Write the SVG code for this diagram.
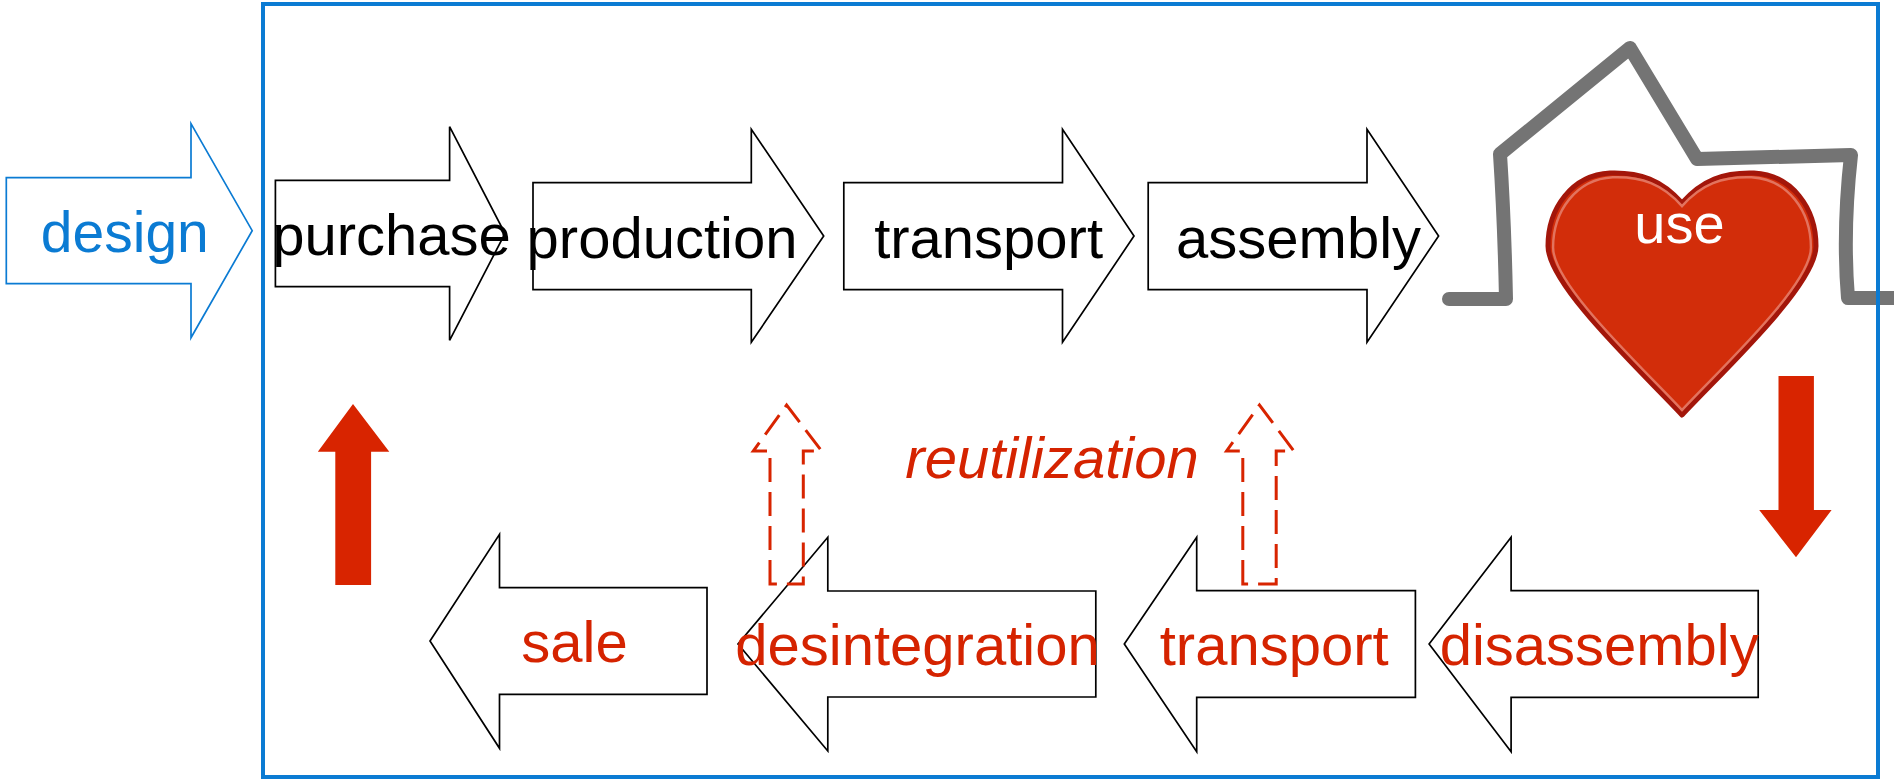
<svg xmlns="http://www.w3.org/2000/svg" width="1894" height="779" viewBox="0 0 1894 779">
<style>
.box{fill:#fff;stroke:#000;stroke-width:1.7;stroke-linejoin:miter}
.lbl{font-family:"Liberation Sans",Arial,Helvetica,sans-serif;font-size:58px;text-anchor:middle}
.blk{fill:#000}
.red{fill:#d52300}
.solid{fill:#d82400;stroke:none}
.dash{fill:none;stroke:#d82400;stroke-width:3;stroke-dasharray:24 10}
.house{fill:none;stroke:#747474;stroke-width:14;stroke-linecap:round;stroke-linejoin:round}
</style>
<rect width="1894" height="779" fill="#fff"/>

<g id="house">
<path class="house" d="M1449,299 L1506,299 C1505,250 1503,200 1500,154 L1630,48 L1697,159 L1851,155 C1846,200 1844,250 1848,298 L1894,298"/>
</g>

<g id="use">
<path d="M1682,203 C1662,180 1640,172 1610,173 C1572,175 1548,208 1548,246 C1548,285 1640,370 1682,415 C1724,370 1816,285 1816,246 C1816,208 1792,175 1754,173 C1724,172 1702,180 1682,203 Z" fill="#d22d0a" stroke="#a3160a" stroke-width="5" stroke-linejoin="round"/>
<path d="M1682,203 C1662,180 1640,172 1610,173 C1572,175 1548,208 1548,246 C1548,285 1640,370 1682,415 C1724,370 1816,285 1816,246 C1816,208 1792,175 1754,173 C1724,172 1702,180 1682,203 Z" fill="none" stroke="#e2735e" stroke-width="2.5" transform="translate(1682 285) scale(0.962) translate(-1682 -285)"/>
<text class="lbl" x="1679.5" y="242.7" fill="#fff" style="font-size:56px">use</text>
</g>

<g id="frame">
<rect x="263" y="4" width="1615" height="773" fill="none" stroke="#0b7bd3" stroke-width="4"/>
</g>

<g id="design">
<path d="M6.3,177.7 L191,177.7 L191,123.7 L252.2,230.7 L191,337.7 L191,283.7 L6.3,283.7 Z" fill="#fff" stroke="#0b7bd3" stroke-width="1.7"/>
<text class="lbl" x="124.8" y="251.7" fill="#0b7bd3" style="font-size:57px">design</text>
</g>

<g id="purchase">
<path class="box" d="M275.4,180.3 L449.6,180.3 L449.6,126.7 L505,233.5 L449.6,340.3 L449.6,286.7 L275.4,286.7 Z"/>
<text class="lbl blk" x="391.5" y="255">purchase</text>
</g>

<g id="production">
<path class="box" d="M533,182.7 L751.3,182.7 L751.3,129.3 L823.7,236 L751.3,342.3 L751.3,289.7 L533,289.7 Z"/>
<text class="lbl blk" x="662" y="257.7">production</text>
</g>

<g id="transport-out">
<path class="box" d="M843.8,182.7 L1062.5,182.7 L1062.5,129.3 L1134,236 L1062.5,342.3 L1062.5,289.7 L843.8,289.7 Z"/>
<text class="lbl blk" x="988.6" y="257.7">transport</text>
</g>

<g id="assembly">
<path class="box" d="M1148.2,182.7 L1367,182.7 L1367,129.3 L1438.6,236 L1367,342.3 L1367,289.7 L1148.2,289.7 Z"/>
<text class="lbl blk" x="1298.6" y="257.7">assembly</text>
</g>

<g id="disassembly">
<path class="box" d="M1758.2,590.7 L1511.1,590.7 L1511.1,537.3 L1429.1,644 L1511.1,751.7 L1511.1,697.3 L1758.2,697.3 Z"/>
<text class="lbl red" x="1599.2" y="664.5">disassembly</text>
</g>

<g id="transport-back">
<path class="box" d="M1415.4,590.7 L1196.7,590.7 L1196.7,537.3 L1124.3,644 L1196.7,751.7 L1196.7,697.3 L1415.4,697.3 Z"/>
<text class="lbl red" x="1274.2" y="664.5">transport</text>
</g>

<g id="desintegration">
<path class="box" d="M1095.8,591 L827.8,591 L827.8,537.3 L738,644 L827.8,751 L827.8,697 L1095.8,697 Z"/>
<text class="lbl red" x="917.5" y="665">desintegration</text>
</g>

<g id="sale">
<path class="box" d="M707,587.7 L499.5,587.7 L499.5,534.3 L430,641 L499.5,748.3 L499.5,694.3 L707,694.3 Z"/>
<text class="lbl red" x="574.5" y="661.7">sale</text>
</g>

<g id="reutilization">
<text class="lbl red" x="1052" y="478.3" font-style="italic">reutilization</text>
</g>

<g id="connectors">
<path class="solid" d="M335.3,585 L335.3,451.7 L317.8,451.7 L353,404 L389.3,451.7 L371.1,451.7 L371.1,585 Z"/>
<path class="solid" d="M1778.5,376 L1813.9,376 L1813.9,510 L1831.6,510 L1796,557.3 L1759.2,510 L1778.5,510 Z"/>
<path class="dash" d="M770,584 L770,451 L753.3,451 L786.6,405 L821.6,451 L803.3,451 L803.3,584 Z"/>
<path class="dash" d="M1242.8,584 L1242.8,451 L1226.6,451 L1259.5,405 L1293.9,451 L1276.2,451 L1276.2,584 Z"/>
</g>
</svg>
